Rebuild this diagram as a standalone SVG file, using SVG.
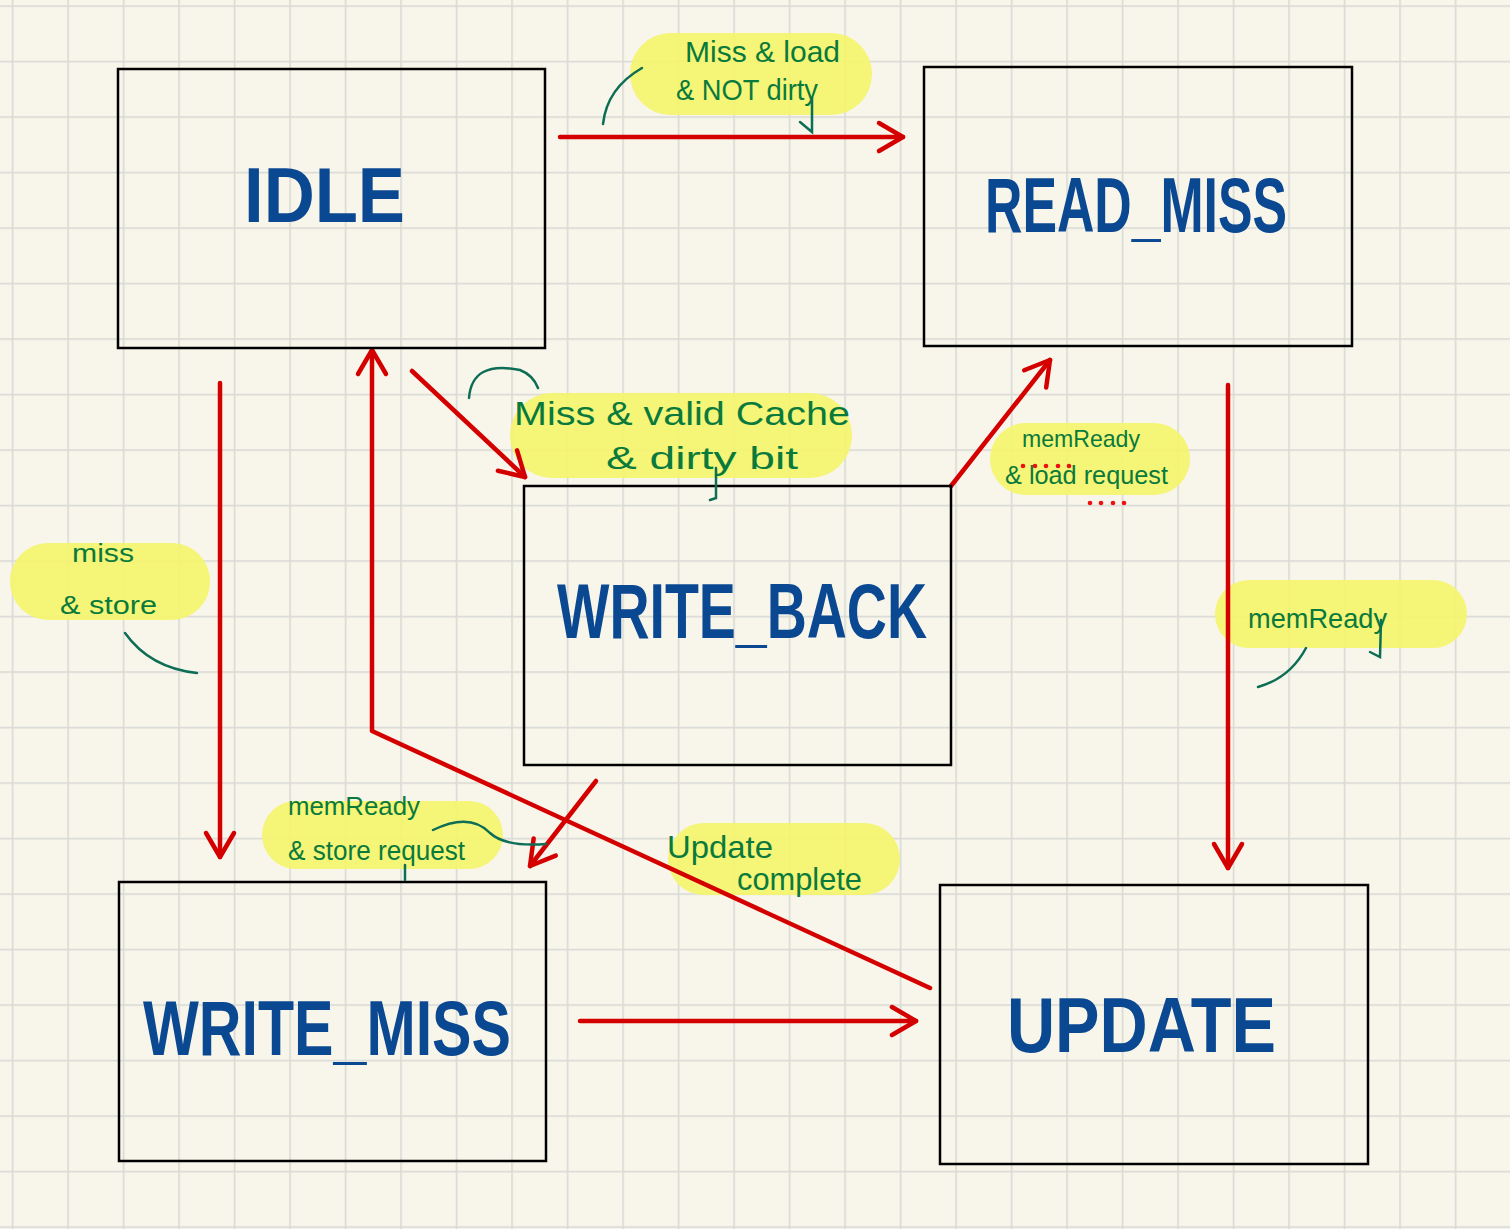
<svg xmlns="http://www.w3.org/2000/svg" width="1510" height="1229" viewBox="0 0 1510 1229">
<defs>
<pattern id="grid" x="11.75" y="5.25" width="55.5" height="55.5" patternUnits="userSpaceOnUse">
<rect x="0" y="0" width="55.5" height="1.6" fill="#d9d9d6"/>
<rect x="0" y="0" width="1.6" height="55.5" fill="#d9d9d6"/>
</pattern>
<marker id="chev" markerUnits="userSpaceOnUse" markerWidth="60" markerHeight="60" viewBox="-30 -30 60 60" refX="0" refY="0" orient="auto" overflow="visible">
<path d="M-24,-14 L0,0 L-24,14" fill="none" stroke="#d40000" stroke-width="4.5" stroke-linecap="round" stroke-linejoin="round"/>
</marker>
<style>
.box{fill:none;stroke:#000;stroke-width:2.5}
.lbl{font-family:"Liberation Sans",Arial,sans-serif;font-size:78px;fill:#0b4892;font-weight:bold}
.note{font-family:"Liberation Sans",Arial,sans-serif;fill:#0a7a3c}
.hl{fill:#f4f46c;opacity:0.92}
.conn{fill:none;stroke:#d40000;stroke-width:4.5;stroke-linecap:round;stroke-linejoin:round;marker-end:url(#chev)}
.ink{fill:none;stroke:#0d6e55;stroke-width:2.5;stroke-linecap:round}
.dot{fill:#ee1111}
</style>
</defs>
<rect width="1510" height="1229" fill="#f8f6ea"/>
<rect width="1510" height="1229" fill="url(#grid)"/>

<g id="highlights">
<rect class="hl" x="630" y="33" width="242" height="82" rx="41"/>
<rect class="hl" x="510" y="393" width="342" height="85" rx="42"/>
<rect class="hl" x="990" y="423" width="200" height="72" rx="36"/>
<rect class="hl" x="10" y="543" width="200" height="77" rx="38"/>
<rect class="hl" x="1215" y="580" width="252" height="68" rx="34"/>
<rect class="hl" x="262" y="801" width="241" height="68" rx="34"/>
<rect class="hl" x="668" y="823" width="232" height="72" rx="36"/>
</g>

<g id="connectors">
<path class="conn" d="M560,137 H903"/>
<path class="conn" d="M412,371 L525,477"/>
<path class="conn" d="M930,988 L372,731 L372,350"/>
<path class="conn" d="M220,383 V857"/>
<path class="conn" d="M951,486 L1050,360"/>
<path class="conn" d="M596,781 L530,866"/>
<path class="conn" d="M580,1021 H916"/>
<path class="conn" d="M1228,385 V868"/>
</g>

<g id="IDLE">
<rect class="box" x="118" y="69" width="427" height="279"/>
<text class="lbl" x="244" y="222" textLength="161" lengthAdjust="spacingAndGlyphs">IDLE</text>
</g>
<g id="READ_MISS">
<rect class="box" x="924" y="67" width="428" height="279"/>
<text class="lbl" x="985" y="232" textLength="302" lengthAdjust="spacingAndGlyphs">READ_MISS</text>
</g>
<g id="WRITE_BACK">
<rect class="box" x="524" y="486" width="427" height="279"/>
<text class="lbl" x="557" y="638" textLength="370" lengthAdjust="spacingAndGlyphs">WRITE_BACK</text>
</g>
<g id="WRITE_MISS">
<rect class="box" x="119" y="882" width="427" height="279"/>
<text class="lbl" x="143" y="1055" textLength="368" lengthAdjust="spacingAndGlyphs">WRITE_MISS</text>
</g>
<g id="UPDATE">
<rect class="box" x="940" y="885" width="428" height="279"/>
<text class="lbl" x="1007" y="1052" textLength="269" lengthAdjust="spacingAndGlyphs">UPDATE</text>
</g>

<g id="annotations">
<text class="note" x="685" y="62" font-size="30" textLength="155" lengthAdjust="spacingAndGlyphs">Miss &amp; load</text>
<text class="note" x="676" y="100" font-size="30" textLength="142" lengthAdjust="spacingAndGlyphs">&amp; NOT dirty</text>
<path class="ink" d="M642,68 Q607,88 603,124"/>
<path class="ink" d="M812,98 L812,132 L800,122"/>

<text class="note" x="514" y="425" font-size="34" textLength="336" lengthAdjust="spacingAndGlyphs">Miss &amp; valid Cache</text>
<text class="note" x="606" y="469" font-size="32" textLength="192" lengthAdjust="spacingAndGlyphs">&amp; dirty bit</text>
<path class="ink" d="M469,398 Q472,360 520,370 Q533,375 538,388"/>
<path class="ink" d="M716,468 L716,498 L710,500"/>

<text class="note" x="1022" y="447" font-size="24" textLength="118" lengthAdjust="spacingAndGlyphs">memReady</text>
<text class="note" x="1005" y="484" font-size="25" textLength="163" lengthAdjust="spacingAndGlyphs">&amp; load request</text>
<circle class="dot" cx="1023" cy="466" r="2.3"/>
<circle class="dot" cx="1035" cy="466" r="2.3"/>
<circle class="dot" cx="1046" cy="466" r="2.3"/>
<circle class="dot" cx="1058" cy="466" r="2.3"/>
<circle class="dot" cx="1069" cy="466" r="2.3"/>
<circle class="dot" cx="1090" cy="503" r="2.3"/>
<circle class="dot" cx="1101" cy="503" r="2.3"/>
<circle class="dot" cx="1113" cy="503" r="2.3"/>
<circle class="dot" cx="1124" cy="503" r="2.3"/>

<text class="note" x="72" y="562" font-size="26" textLength="62" lengthAdjust="spacingAndGlyphs">miss</text>
<text class="note" x="60" y="614" font-size="26" textLength="97" lengthAdjust="spacingAndGlyphs">&amp; store</text>
<path class="ink" d="M125,633 Q150,668 197,673"/>

<text class="note" x="1248" y="628" font-size="28" textLength="139" lengthAdjust="spacingAndGlyphs">memReady</text>
<path class="ink" d="M1306,648 Q1290,678 1258,687"/>
<path class="ink" d="M1381,620 L1380,657 L1370,652"/>

<text class="note" x="288" y="815" font-size="26" textLength="132" lengthAdjust="spacingAndGlyphs">memReady</text>
<text class="note" x="288" y="860" font-size="27" textLength="177" lengthAdjust="spacingAndGlyphs">&amp; store request</text>
<path class="ink" d="M433,830 Q470,812 490,833 Q505,847 546,844"/>
<path class="ink" d="M405,865 L405,880"/>

<text class="note" x="667" y="858" font-size="32" textLength="106" lengthAdjust="spacingAndGlyphs">Update</text>
<text class="note" x="737" y="890" font-size="32" textLength="125" lengthAdjust="spacingAndGlyphs">complete</text>
</g>
</svg>
